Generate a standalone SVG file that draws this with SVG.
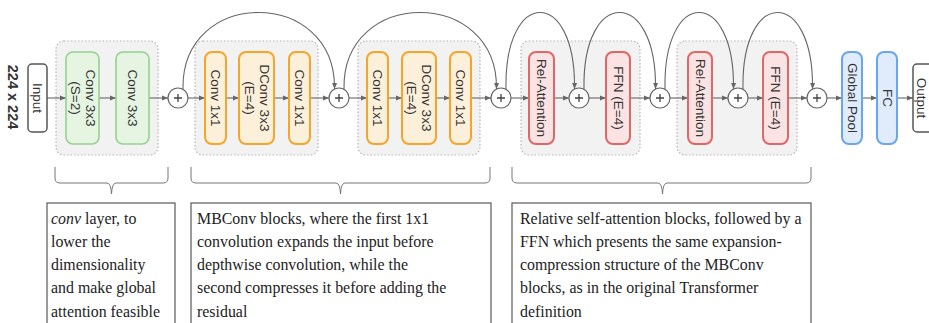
<svg xmlns="http://www.w3.org/2000/svg" width="929" height="323" viewBox="0 0 929 323">
<defs>
<marker id="ah" viewBox="0 0 6 6" refX="6" refY="3" markerWidth="6" markerHeight="6" markerUnits="userSpaceOnUse" orient="auto">
<path d="M0,0.5 L6,3 L0,5.5 z" fill="#666"/>
</marker>
<style>
.bg{fill:#f2f2f2;stroke:#b5b5b5;stroke-width:1.2;stroke-dasharray:1.5 2}
.g{fill:#e5f5e2;stroke:#93d28e;stroke-width:1.6}
.o{fill:#fdf0da;stroke:#f5a62a;stroke-width:2}
.r{fill:#fce3e3;stroke:#e06767;stroke-width:2}
.b{fill:#e0ebfb;stroke:#6aa6ee;stroke-width:2}
.io{fill:#fff;stroke:#555;stroke-width:1.5}
.pl{fill:#fff;stroke:#666;stroke-width:1.2}
.lb{font-family:"Liberation Sans",Arial,sans-serif;font-size:13.5px;fill:#333;text-anchor:middle}
.pt{stroke:#444;stroke-width:1.3;fill:none}
.ar{stroke:#666;stroke-width:1.1;fill:none;marker-end:url(#ah)}
.br{stroke:#777;stroke-width:1;fill:none}
.tb{fill:#fff;stroke:#666;stroke-width:1.3}
.tx{font-family:"Liberation Serif","Times New Roman",serif;font-size:15.9px;fill:#222}
</style>
</defs>
<rect width="929" height="323" fill="#fff"/>

<g id="size-label"><text class="lb" style="font-size:14.5px;font-weight:bold;fill:#333" transform="translate(13,97) rotate(90)" y="5">224 x 224</text></g>

<g id="stem-group"><rect class="bg" x="56" y="41" width="102" height="114" rx="8"/></g>
<g id="mbconv-group-1"><rect class="bg" x="195" y="41" width="123" height="114" rx="8"/></g>
<g id="mbconv-group-2"><rect class="bg" x="358" y="41" width="122" height="114" rx="8"/></g>
<g id="transformer-group-1"><rect class="bg" x="521" y="41" width="119" height="114" rx="8"/></g>
<g id="transformer-group-2"><rect class="bg" x="677" y="41" width="120" height="114" rx="8"/></g>

<g id="connectors">
<line class="ar" x1="47" y1="98" x2="66" y2="98"/>
<line class="ar" x1="99" y1="98" x2="116" y2="98"/>
<line class="ar" x1="149" y1="98" x2="168" y2="98"/>
<line class="ar" x1="188" y1="98" x2="205" y2="98"/>
<line class="ar" x1="226" y1="98" x2="239" y2="98"/>
<line class="ar" x1="274" y1="98" x2="289" y2="98"/>
<line class="ar" x1="310" y1="98" x2="329" y2="98"/>
<line class="ar" x1="349" y1="98" x2="367" y2="98"/>
<line class="ar" x1="388" y1="98" x2="402" y2="98"/>
<line class="ar" x1="436" y1="98" x2="450" y2="98"/>
<line class="ar" x1="471" y1="98" x2="491" y2="98"/>
<line class="ar" x1="511" y1="98" x2="529" y2="98"/>
<line class="ar" x1="554" y1="98" x2="569" y2="98"/>
<line class="ar" x1="589" y1="98" x2="606" y2="98"/>
<line class="ar" x1="630" y1="98" x2="650" y2="98"/>
<line class="ar" x1="670" y1="98" x2="688" y2="98"/>
<line class="ar" x1="712" y1="98" x2="728" y2="98"/>
<line class="ar" x1="748" y1="98" x2="763" y2="98"/>
<line class="ar" x1="788" y1="98" x2="807" y2="98"/>
<line class="ar" x1="827" y1="98" x2="842" y2="98"/>
<line class="ar" x1="862" y1="98" x2="877" y2="98"/>
<line class="ar" x1="897" y1="98" x2="913" y2="98"/>
<path class="ar" d="M183 89 C181 -13,336 -13,334.5 89"/>
<path class="ar" d="M344 89 C342 -13,498 -13,496.5 89"/>
<path class="ar" d="M506 89 C504 -13,576 -13,574.5 89"/>
<path class="ar" d="M584 89 C582 -13,657 -13,655.5 89"/>
<path class="ar" d="M665 89 C663 -13,735 -13,733.5 89"/>
<path class="ar" d="M743 89 C741 -13,814 -13,812.5 89"/>
</g>

<g id="input"><rect class="io" x="28" y="64" width="19" height="68" rx="4"/><text class="lb" transform="translate(37.5,98) rotate(90)" y="4.5">Input</text></g>

<g id="conv-s2"><rect class="g" x="66" y="52" width="33" height="92" rx="7"/><text class="lb" transform="translate(82.5,98) rotate(90)"><tspan x="0" y="-3">Conv 3x3</tspan><tspan x="0" y="12">(S=2)</tspan></text></g>
<g id="conv-3x3"><rect class="g" x="116" y="52" width="33" height="92" rx="7"/><text class="lb" transform="translate(132.5,98) rotate(90)" y="4.5">Conv 3x3</text></g>

<g id="add-1"><circle class="pl" cx="178" cy="98" r="10"/><path class="pt" d="M174 98 H182 M178 94 V102"/></g>

<g id="mb1-conv-a"><rect class="o" x="205" y="52" width="21" height="92" rx="7"/><text class="lb" transform="translate(215.5,98) rotate(90)" y="4.5">Conv 1x1</text></g>
<g id="mb1-dconv"><rect class="o" x="239" y="52" width="35" height="92" rx="7"/><text class="lb" transform="translate(256.5,98) rotate(90)"><tspan x="0" y="-3">DConv 3x3</tspan><tspan x="0" y="12">(E=4)</tspan></text></g>
<g id="mb1-conv-b"><rect class="o" x="289" y="52" width="21" height="92" rx="7"/><text class="lb" transform="translate(299.5,98) rotate(90)" y="4.5">Conv 1x1</text></g>

<g id="add-2"><circle class="pl" cx="339" cy="98" r="10"/><path class="pt" d="M335 98 H343 M339 94 V102"/></g>

<g id="mb2-conv-a"><rect class="o" x="367" y="52" width="21" height="92" rx="7"/><text class="lb" transform="translate(377.5,98) rotate(90)" y="4.5">Conv 1x1</text></g>
<g id="mb2-dconv"><rect class="o" x="402" y="52" width="34" height="92" rx="7"/><text class="lb" transform="translate(419,98) rotate(90)"><tspan x="0" y="-3">DConv 3x3</tspan><tspan x="0" y="12">(E=4)</tspan></text></g>
<g id="mb2-conv-b"><rect class="o" x="450" y="52" width="21" height="92" rx="7"/><text class="lb" transform="translate(460.5,98) rotate(90)" y="4.5">Conv 1x1</text></g>

<g id="add-3"><circle class="pl" cx="501" cy="98" r="10"/><path class="pt" d="M497 98 H505 M501 94 V102"/></g>

<g id="rel-attention-1"><rect class="r" x="529" y="52" width="25" height="92" rx="7"/><text class="lb" transform="translate(541.5,98) rotate(90)" y="4.5">Rel-Attention</text></g>
<g id="add-4"><circle class="pl" cx="579" cy="98" r="10"/><path class="pt" d="M575 98 H583 M579 94 V102"/></g>
<g id="ffn-1"><rect class="r" x="606" y="52" width="24" height="92" rx="7"/><text class="lb" transform="translate(618,98) rotate(90)" y="4.5">FFN (E=4)</text></g>
<g id="add-5"><circle class="pl" cx="660" cy="98" r="10"/><path class="pt" d="M656 98 H664 M660 94 V102"/></g>

<g id="rel-attention-2"><rect class="r" x="688" y="52" width="24" height="92" rx="7"/><text class="lb" transform="translate(700,98) rotate(90)" y="4.5">Rel-Attention</text></g>
<g id="add-6"><circle class="pl" cx="738" cy="98" r="10"/><path class="pt" d="M734 98 H742 M738 94 V102"/></g>
<g id="ffn-2"><rect class="r" x="763" y="52" width="25" height="92" rx="7"/><text class="lb" transform="translate(775.5,98) rotate(90)" y="4.5">FFN (E=4)</text></g>
<g id="add-7"><circle class="pl" cx="817" cy="98" r="10"/><path class="pt" d="M813 98 H821 M817 94 V102"/></g>

<g id="global-pool"><rect class="b" x="842" y="52" width="20" height="92" rx="7"/><text class="lb" transform="translate(852,98) rotate(90)" y="4.5">Global Pool</text></g>
<g id="fc"><rect class="b" x="877" y="52" width="20" height="92" rx="7"/><text class="lb" transform="translate(887,98) rotate(90)" y="4.5">FC</text></g>
<g id="output"><rect class="io" x="913" y="64" width="22" height="68" rx="4"/><text class="lb" transform="translate(921.5,98) rotate(90)" y="4.5">Output</text></g>

<g id="brace-1"><path class="br" d="M55 167 L55 178 Q55 183 60 183 L107 183 Q111 183 111.5 194 Q112 183 116 183 L163 183 Q168 183 168 178 L168 167"/></g>
<g id="brace-2"><path class="br" d="M191 167 L191 178 Q191 183 196 183 L336 183 Q340 183 340.5 194 Q341 183 345 183 L485 183 Q490 183 490 178 L490 167"/></g>
<g id="brace-3"><path class="br" d="M512 167 L512 178 Q512 183 517 183 L658 183 Q662 183 662.5 194 Q663 183 667 183 L806 183 Q811 183 811 178 L811 167"/></g>

<g id="note-stem"><rect class="tb" x="47" y="203" width="128" height="130"/>
<text class="tx"><tspan x="51" y="223.5"><tspan font-style="italic">conv</tspan> layer, to</tspan><tspan x="51" y="246.8">lower the</tspan><tspan x="51" y="270.1">dimensionality</tspan><tspan x="51" y="293.4">and make global</tspan><tspan x="51" y="316.7">attention feasible</tspan></text></g>

<g id="note-mbconv"><rect class="tb" x="191" y="203" width="300" height="130"/>
<text class="tx"><tspan x="197" y="223.5">MBConv blocks, where the first 1x1</tspan><tspan x="197" y="246.8">convolution expands the input before</tspan><tspan x="197" y="270.1">depthwise convolution, while the</tspan><tspan x="197" y="293.4">second compresses it before adding the</tspan><tspan x="197" y="316.7">residual</tspan></text></g>

<g id="note-transformer"><rect class="tb" x="512" y="203" width="299" height="130"/>
<text class="tx"><tspan x="520" y="223.5">Relative self-attention blocks, followed by a</tspan><tspan x="520" y="246.8">FFN which presents the same expansion-</tspan><tspan x="520" y="270.1">compression structure of the MBConv</tspan><tspan x="520" y="293.4">blocks, as in the original Transformer</tspan><tspan x="520" y="316.7">definition</tspan></text></g>
</svg>
